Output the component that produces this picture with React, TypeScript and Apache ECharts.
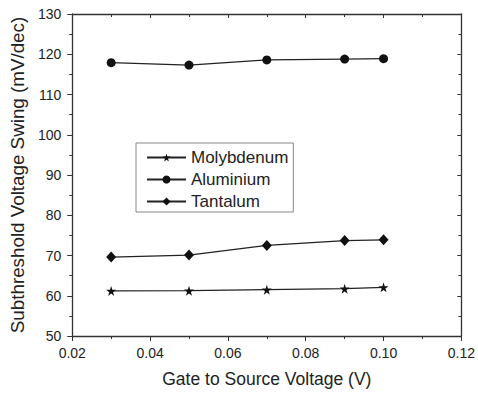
import React, { useEffect, useRef } from "react";
import * as echarts from "echarts";

const xValues = [0.03, 0.05, 0.07, 0.09, 0.1];
const molybdenum = [61.2, 61.25, 61.5, 61.75, 62.1];
const aluminium = [117.9, 117.3, 118.6, 118.8, 118.9];
const tantalum = [69.6, 70.1, 72.5, 73.7, 73.9];
const seriesNames = ["Molybdenum", "Aluminium", "Tantalum"];

const STAR = "path://M50,0 L61,35 L98,35 L68,57 L79,91 L50,70 L21,91 L32,57 L2,35 L39,35 Z";

export default function App() {
  const ref = useRef<HTMLDivElement>(null);
  useEffect(() => {
    if (!ref.current) return;
    const chart = echarts.init(ref.current, null, { renderer: "svg" });
    const pair = (ys: number[]) => xValues.map((x, i) => [x, ys[i]]);
    const axisLine = { show: true, lineStyle: { color: "#333", width: 1.3 } };
    const font = "Liberation Sans, Arial, sans-serif";
    chart.setOption({
      animation: false,
      backgroundColor: "#fff",
      grid: [{ left: 70, right: 14, top: 14, bottom: 58, containLabel: false }],
      legend: {
        left: 136,
        top: 143,
        orient: "vertical",
        data: seriesNames,
        itemWidth: 39,
        itemHeight: 10,
        itemGap: 5,
        padding: [6, 5, 2, 10],
        borderColor: "#888",
        borderWidth: 1,
        textStyle: { fontSize: 17, lineHeight: 16, color: "#222", fontFamily: font },
      },
      xAxis: [
        {
          type: "value",
          min: 0.02,
          max: 0.12,
          interval: 0.02,
          name: "Gate to Source Voltage (V)",
          nameLocation: "middle",
          nameGap: 34,
          nameTextStyle: { fontSize: 17.5, color: "#222", fontFamily: font },
          axisLine,
          axisTick: { show: true, inside: false, length: 5, lineStyle: { color: "#333" } },
          minorTick: { show: true, splitNumber: 2, length: 3, lineStyle: { color: "#333" } },
          axisLabel: {
            fontSize: 14,
            color: "#222",
            fontFamily: font,
            margin: 10,
            formatter: (v: number) => v.toFixed(2),
          },
          splitLine: { show: false },
        },
        {
          type: "value",
          position: "top",
          min: 0.02,
          max: 0.12,
          interval: 0.02,
          axisLine,
          axisTick: { show: true, inside: true, length: 4, lineStyle: { color: "#333" } },
          minorTick: { show: true, splitNumber: 2, length: 3, lineStyle: { color: "#333" } },
          axisLabel: { show: false },
          splitLine: { show: false },
        },
      ],
      yAxis: [
        {
          type: "value",
          min: 50,
          max: 130,
          interval: 10,
          name: "Subthreshold Voltage Swing (mV/dec)",
          nameLocation: "middle",
          nameGap: 40,
          nameTextStyle: { fontSize: 18.8, color: "#222", fontFamily: font },
          axisLine,
          axisTick: { show: true, inside: false, length: 5, lineStyle: { color: "#333" } },
          minorTick: { show: true, splitNumber: 2, length: 3, lineStyle: { color: "#333" } },
          axisLabel: { fontSize: 14, color: "#222", fontFamily: font, margin: 11 },
          splitLine: { show: false },
        },
        {
          type: "value",
          position: "right",
          min: 50,
          max: 130,
          interval: 10,
          axisLine,
          axisTick: { show: true, inside: true, length: 4, lineStyle: { color: "#333" } },
          minorTick: { show: true, splitNumber: 2, length: 3, lineStyle: { color: "#333" } },
          axisLabel: { show: false },
          splitLine: { show: false },
        },
      ],
      series: [
        {
          name: seriesNames[0],
          type: "line",
          data: pair(molybdenum),
          symbol: STAR,
          symbolSize: 10,
          itemStyle: { color: "#111" },
          lineStyle: { color: "#222", width: 1.3 },
        },
        {
          name: seriesNames[1],
          type: "line",
          data: pair(aluminium),
          symbol: "circle",
          symbolSize: 9,
          itemStyle: { color: "#111" },
          lineStyle: { color: "#222", width: 1.3 },
        },
        {
          name: seriesNames[2],
          type: "line",
          data: pair(tantalum),
          symbol: "diamond",
          symbolSize: [10, 11],
          itemStyle: { color: "#111" },
          lineStyle: { color: "#222", width: 1.3 },
        },
      ],
    });
    return () => chart.dispose();
  }, []);
  return (
    <div
      ref={ref}
      style={{ position: "fixed", left: 0, top: 0, width: 478, height: 394 }}
    />
  );
}
